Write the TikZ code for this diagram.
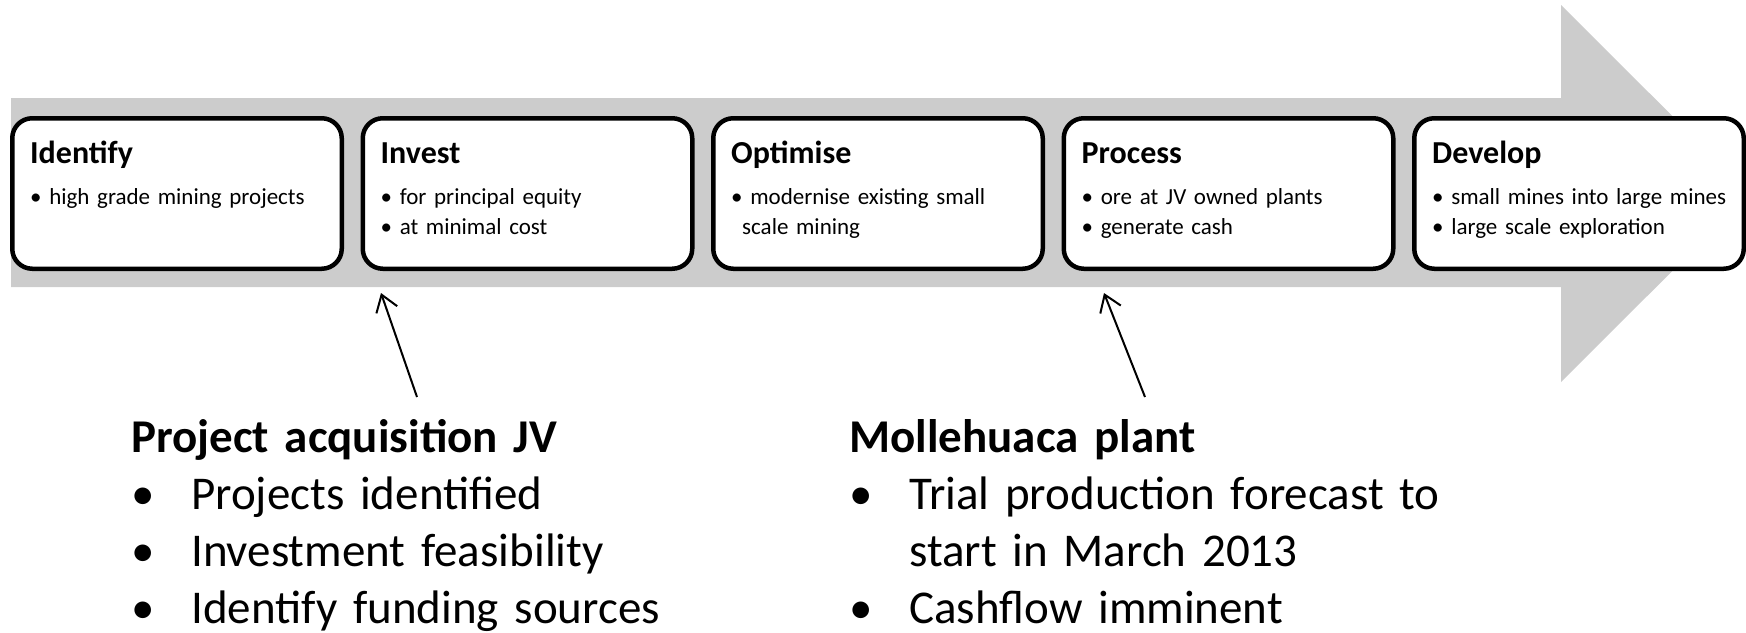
\documentclass[tikz,border=0pt]{standalone}
\usepackage{fontspec}
\setmainfont{Carlito}
\usetikzlibrary{arrows.meta,positioning,calc}

\begin{document}
\begin{tikzpicture}[
    x=1pt, y=-1pt,
    node distance=16.5pt,
    stage/.style={rectangle, rounded corners=20pt, draw=black, line width=4.5pt, fill=white,
                  minimum width=329.5pt, minimum height=150.5pt, inner sep=0pt},
    stagehead/.style={anchor=base west, inner sep=0pt, font=\fontsize{32}{38}\selectfont\bfseries},
    stagetext/.style={anchor=base west, inner sep=0pt, align=left, text width=310pt,
                      font=\fontsize{23}{30.5}\selectfont},
    note/.style={anchor=base west, inner sep=0pt, align=left, text width=600pt,
                 font=\fontsize{47}{57}\selectfont},
    callout/.style={-{Straight Barb[length=16pt,width=22pt]}, line width=2pt}
]
\useasboundingbox (0,0) rectangle (1746,632);
% big grey arrow behind the stages
\fill[black!20] (11,98) -- (1561,98) -- (1561,5) -- (1750,193.5) -- (1561,382) -- (1561,287) -- (11,287) -- cycle;

% stages
\node[stage] (identify) at (177,193.5) {};
\node[stage, right=of identify] (invest) {};
\node[stage, right=of invest] (optimise) {};
\node[stage, right=of optimise] (process) {};
\node[stage, right=of process] (develop) {};

\node[stagehead] (identifyhead) at ($(identify.north west)+(20,47)$) {Identify};
\node[stagetext] (identifytext) at ($(identify.north west)+(20,88)$) {• high grade mining projects};
\node[stagehead] (investhead) at ($(invest.north west)+(20,47)$) {Invest};
\node[stagetext] (investtext) at ($(invest.north west)+(20,88)$) {• for principal equity\\• at minimal cost};
\node[stagehead] (optimisehead) at ($(optimise.north west)+(20,47)$) {Optimise};
\node[stagetext] (optimisetext) at ($(optimise.north west)+(20,88)$) {• modernise existing small\\\hspace*{11pt}scale mining};
\node[stagehead] (processhead) at ($(process.north west)+(20,47)$) {Process};
\node[stagetext] (processtext) at ($(process.north west)+(20,88)$) {• ore at JV owned plants\\• generate cash};
\node[stagehead] (develophead) at ($(develop.north west)+(20,47)$) {Develop};
\node[stagetext] (developtext) at ($(develop.north west)+(20,88)$) {• small mines into large mines\\• large scale exploration};

% notes below
\node[note] (acquisition) at (131,452) {\textbf{Project acquisition JV}\\
  \makebox[60pt][l]{•}Projects identified\\
  \makebox[60pt][l]{•}Investment feasibility\\
  \makebox[60pt][l]{•}Identify funding sources};
\node[note] (plant) at (849,452) {\textbf{Mollehuaca plant}\\
  \makebox[60pt][l]{•}Trial production forecast to\\
  \hspace*{60pt}start in March 2013\\
  \makebox[60pt][l]{•}Cashflow imminent};

\coordinate (acqfoot) at (417,397);
\coordinate (acqtip) at (381,293);
\coordinate (plantfoot) at (1145,397);
\coordinate (planttip) at (1104,293);
\draw[callout] (acqfoot) -- (acqtip);
\draw[callout] (plantfoot) -- (planttip);
\end{tikzpicture}
\end{document}
